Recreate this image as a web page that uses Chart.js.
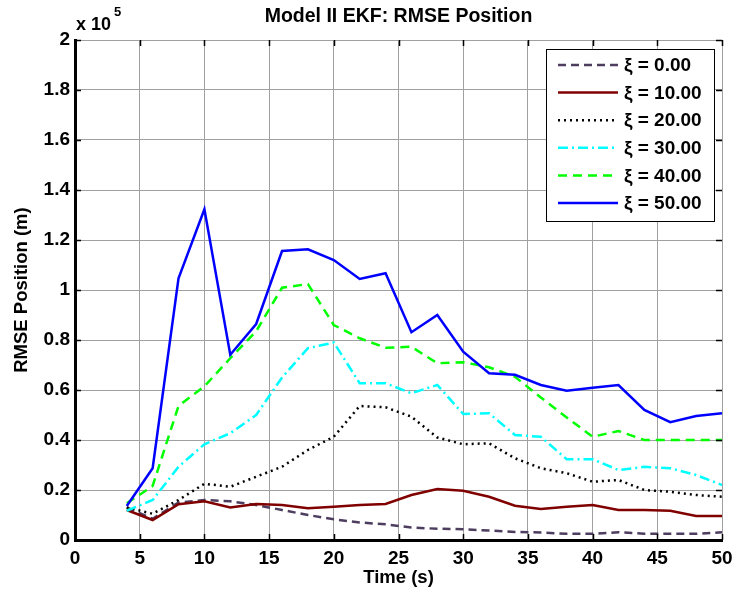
<!DOCTYPE html>
<html>
<head>
<meta charset="utf-8">
<script src="https://cdn.jsdelivr.net/npm/chart.js@4/dist/chart.umd.min.js"></script>
<style>
  html, body { margin: 0; padding: 0; background: #fff; }
  #wrap { width: 735px; height: 598px; }
</style>
</head>
<body>
<div id="wrap"><canvas id="rmseChart" width="735" height="598"></canvas></div>
<script>
// time axis (s)
var times = [4,6,8,10,12,14,16,18,20,22,24,26,28,30,32,34,36,38,40,42,44,46,48,50];
// RMSE position, in units of 1e5 m
var xi0  = [0.13,0.085,0.15,0.16,0.155,0.14,0.12,0.10,0.083,0.07,0.063,0.05,0.045,0.043,0.038,0.032,0.03,0.025,0.025,0.031,0.025,0.025,0.025,0.031];
var xi10 = [0.12,0.08,0.143,0.155,0.13,0.144,0.14,0.127,0.133,0.14,0.144,0.18,0.204,0.197,0.173,0.137,0.124,0.133,0.14,0.12,0.12,0.117,0.096,0.096];
var xi20 = [0.13,0.105,0.16,0.225,0.213,0.253,0.293,0.36,0.413,0.536,0.531,0.493,0.41,0.383,0.387,0.327,0.287,0.267,0.233,0.24,0.20,0.193,0.18,0.173];
var xi30 = [0.117,0.16,0.293,0.383,0.427,0.50,0.65,0.767,0.79,0.627,0.627,0.587,0.62,0.504,0.507,0.42,0.413,0.323,0.323,0.28,0.293,0.287,0.26,0.22];
var xi40 = [0.147,0.216,0.536,0.615,0.727,0.835,1.009,1.024,0.86,0.807,0.769,0.773,0.707,0.711,0.691,0.653,0.57,0.49,0.413,0.436,0.40,0.40,0.40,0.40];
var xi50 = [0.136,0.287,1.047,1.323,0.741,0.864,1.156,1.163,1.12,1.044,1.067,0.831,0.90,0.753,0.667,0.661,0.62,0.597,0.609,0.62,0.52,0.471,0.496,0.507];

var seriesLabels = ['\u03be = 0.00','\u03be = 10.00','\u03be = 20.00','\u03be = 30.00','\u03be = 40.00','\u03be = 50.00'];
var seriesValues = [xi0, xi10, xi20, xi30, xi40, xi50];
var seriesColors = ['#4d3d5e','#800000','#000000','#00ffff','#00ff00','#0000ff'];
var seriesDash = [[8,5], [], [2,4], [10,4,2,4], [9,6], []];

var xTicks = [0,5,10,15,20,25,30,35,40,45,50];
var yTicks = [0,0.2,0.4,0.6,0.8,1,1.2,1.4,1.6,1.8,2];

var FONT = '"Liberation Sans", Arial, Helvetica, sans-serif';

function pairs(vals) {
	return vals.map(function (v, i) { return { x: times[i], y: v }; });
}

var datasets = seriesValues.map(function (vals, i) {
	return {
		label: seriesLabels[i],
		data: pairs(vals),
		borderColor: seriesColors[i],
		backgroundColor: seriesColors[i],
		borderDash: seriesDash[i],
		borderWidth: 2.5,
		pointRadius: 0,
		tension: 0,
		fill: false,
		order: seriesValues.length - 1 - i
	};
});

// texts, inward ticks and boxed legend, MATLAB style
var matlabDecor = {
	id: 'matlabDecor',
	afterDraw: function (chart) {
		var ctx = chart.ctx;
		var a = chart.chartArea;
		var xs = chart.scales.x, ys = chart.scales.y;
		ctx.save();

		// inward tick marks on all four sides
		ctx.strokeStyle = '#000';
		ctx.lineWidth = 1.5;
		ctx.beginPath();
		xTicks.forEach(function (t) {
			var px = Math.round(xs.getPixelForValue(t)) + 0.5;
			ctx.moveTo(px, a.bottom); ctx.lineTo(px, a.bottom - 6);
			ctx.moveTo(px, a.top); ctx.lineTo(px, a.top + 6);
		});
		yTicks.forEach(function (t) {
			var py = Math.round(ys.getPixelForValue(t)) + 0.5;
			ctx.moveTo(a.left, py); ctx.lineTo(a.left + 6, py);
			ctx.moveTo(a.right, py); ctx.lineTo(a.right - 6, py);
		});
		ctx.stroke();

		ctx.fillStyle = '#000';
		// title
		ctx.font = 'bold 19.5px ' + FONT;
		ctx.textAlign = 'center';
		ctx.textBaseline = 'middle';
		ctx.fillText('Model II EKF: RMSE Position', (a.left + a.right) / 2, 17);

		// exponent
		ctx.textAlign = 'left';
		ctx.textBaseline = 'alphabetic';
		ctx.font = 'bold 18px ' + FONT;
		ctx.fillText('x 10', 76, 30);
		ctx.font = 'bold 13px ' + FONT;
		ctx.fillText('5', 114, 16);

		// axis titles
		ctx.font = 'bold 18.5px ' + FONT;
		ctx.textAlign = 'center';
		ctx.textBaseline = 'middle';
		ctx.fillText('Time (s)', (a.left + a.right) / 2, 578);
		ctx.save();
		ctx.translate(22, (a.top + a.bottom) / 2);
		ctx.rotate(-Math.PI / 2);
		ctx.fillText('RMSE Position (m)', 0, 0);
		ctx.restore();

		// legend box
		var bx = 546, by = 49, bw = 168, bh = 172;
		ctx.fillStyle = '#fff';
		ctx.fillRect(bx, by, bw, bh);
		ctx.strokeStyle = '#000';
		ctx.lineWidth = 1;
		ctx.strokeRect(bx + 0.5, by + 0.5, bw, bh);
		ctx.font = 'bold 19px ' + FONT;
		ctx.textAlign = 'left';
		ctx.textBaseline = 'middle';
		chart.data.datasets.forEach(function (ds, i) {
			var ly = by + 16 + i * 27.6;
			ctx.strokeStyle = ds.borderColor;
			ctx.lineWidth = ds.borderWidth;
			ctx.setLineDash(ds.borderDash);
			ctx.beginPath();
			ctx.moveTo(bx + 12, ly);
			ctx.lineTo(bx + 72, ly);
			ctx.stroke();
			ctx.setLineDash([]);
			ctx.fillStyle = '#000';
			ctx.fillText(ds.label, bx + 78, ly + 1);
		});
		ctx.restore();
	}
};

var rmseChart = new Chart(document.getElementById('rmseChart'), {
	type: 'line',
	data: { datasets: datasets },
	options: {
		responsive: false,
		animation: false,
		events: [],
		layout: { padding: { left: 0, right: 13, top: 40, bottom: 0 } },
		plugins: {
			legend: { display: false },
			title: { display: false },
			tooltip: { enabled: false }
		},
		scales: {
			x: {
				type: 'linear',
				min: 0,
				max: 50,
				afterFit: function (s) { s.height = 58; s.paddingLeft = 0; s.paddingRight = 0; },
				afterBuildTicks: function (s) { s.ticks = xTicks.map(function (v) { return { value: v }; }); },
				ticks: {
					padding: 7,
					color: '#000',
					font: { family: FONT, size: 19, weight: 'bold' },
					maxRotation: 0
				},
				grid: { color: '#a0a0a0', lineWidth: 1, drawTicks: false, tickLength: 0 },
				border: { display: true, color: '#000', width: 3 }
			},
			y: {
				min: 0,
				max: 2,
				afterFit: function (s) { s.width = 75; s.paddingTop = 0; s.paddingBottom = 0; },
				afterBuildTicks: function (s) { s.ticks = yTicks.map(function (v) { return { value: v }; }); },
				ticks: {
					padding: 5,
					color: '#000',
					font: { family: FONT, size: 19, weight: 'bold' },
					callback: function (v) { return String(+v.toFixed(1)); }
				},
				grid: { color: '#a0a0a0', lineWidth: 1, drawTicks: false, tickLength: 0 },
				border: { display: true, color: '#000', width: 3 }
			}
		}
	},
	plugins: [matlabDecor]
});
</script>
</body>
</html>
